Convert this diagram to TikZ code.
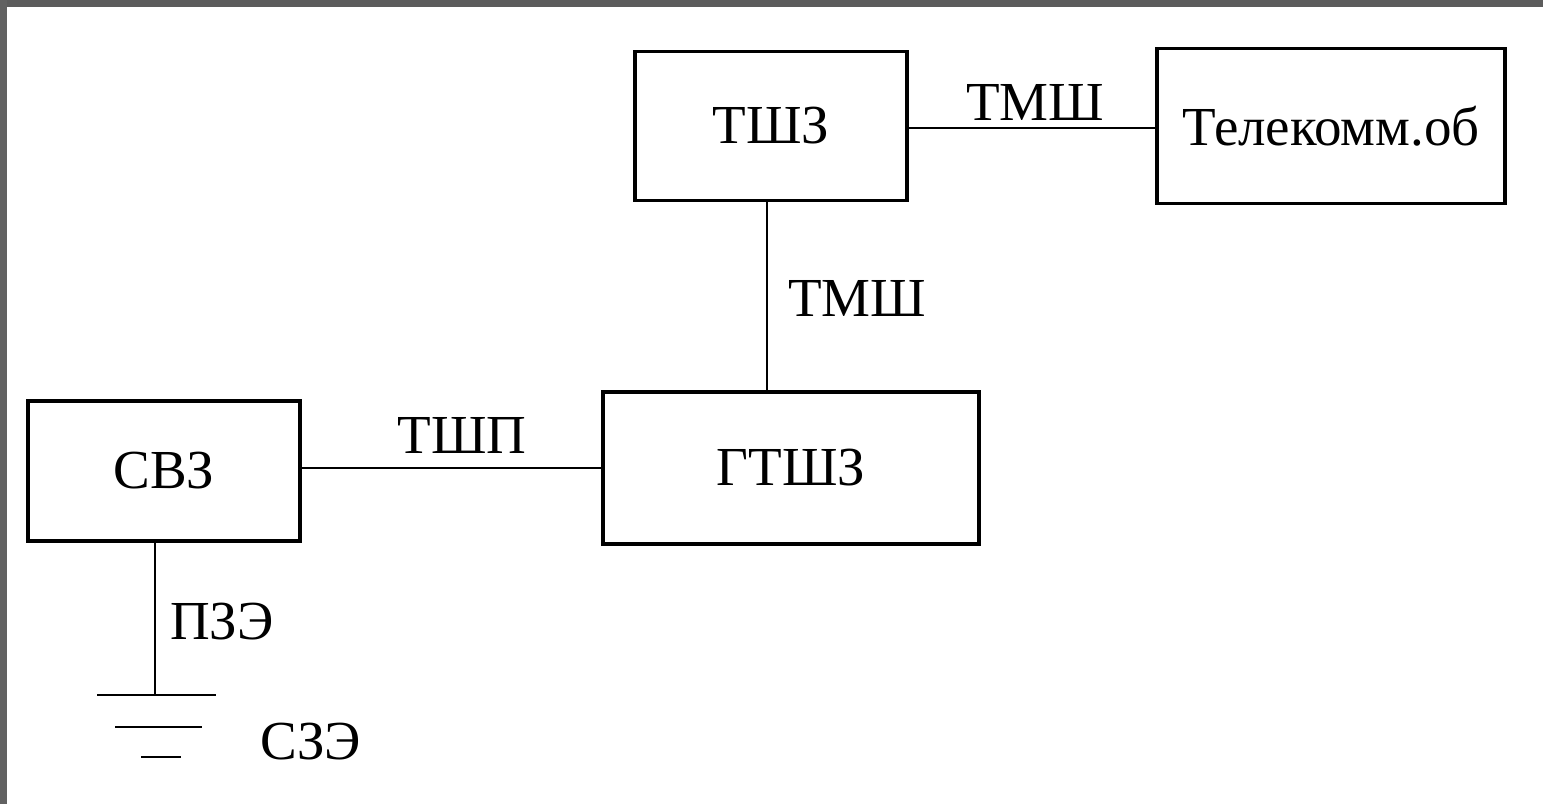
\documentclass[tikz,border=0pt]{standalone}
\usepackage{fontspec}
\setmainfont{Liberation Serif}
\usetikzlibrary{calc}

\begin{document}
\begin{tikzpicture}[x=0.5pt,y=-0.5pt,
  blk/.style={draw,line width=1.6pt,font=\fontsize{27.5}{30}\selectfont,inner sep=0pt},
  lbl/.style={font=\fontsize{27.5}{30}\selectfont,inner sep=0pt},
  wire/.style={line width=1.4pt}]
% frame
\useasboundingbox (0,0) rectangle (1543,804);
\fill[black!64] (0,0) rectangle (1543,7);
\fill[black!62] (0,0) rectangle (7,804);
% blocks
\node [blk,minimum width=136pt,minimum height=74.5pt] (tsz) at (771,126) {ТШЗ};
\node [blk,minimum width=174pt,minimum height=77.5pt] (tel) at (1331,126) {Телекомм.об};
\node [blk,minimum width=188pt,minimum height=76pt] (gtsz) at (791,468) {ГТШЗ};
\node [blk,minimum width=136pt,minimum height=70pt] (svz) at (164,471) {СВЗ};
% labels
\node [lbl] (l1) at (1035,102) {ТМШ};
\node [lbl] (l2) at (857,298) {ТМШ};
\node [lbl] (l3) at (462,435) {ТШП};
\node [lbl] (l4) at (222,622) {ПЗЭ};
\node [lbl] (l5) at (311,742) {СЗЭ};
% connections
\draw [wire] ([yshift=-1pt]tsz.east) -- ([yshift=-1pt]tel.west);
\draw [wire] ([xshift=-2pt]tsz.south) -- ([xshift=-2pt]tsz.south |- gtsz.north);
\draw [wire] ([yshift=1.5pt]svz.east) -- ([yshift=1.5pt]svz.east -| gtsz.west);
% ground
\coordinate (gnd) at (155,695);
\draw [wire] ([xshift=-4.5pt]svz.south) -- (gnd);
\draw [wire] (97,695) -- (216,695);
\draw [wire] (115,727) -- (202,727);
\draw [wire] (141,757) -- (181,757);
\end{tikzpicture}
\end{document}
